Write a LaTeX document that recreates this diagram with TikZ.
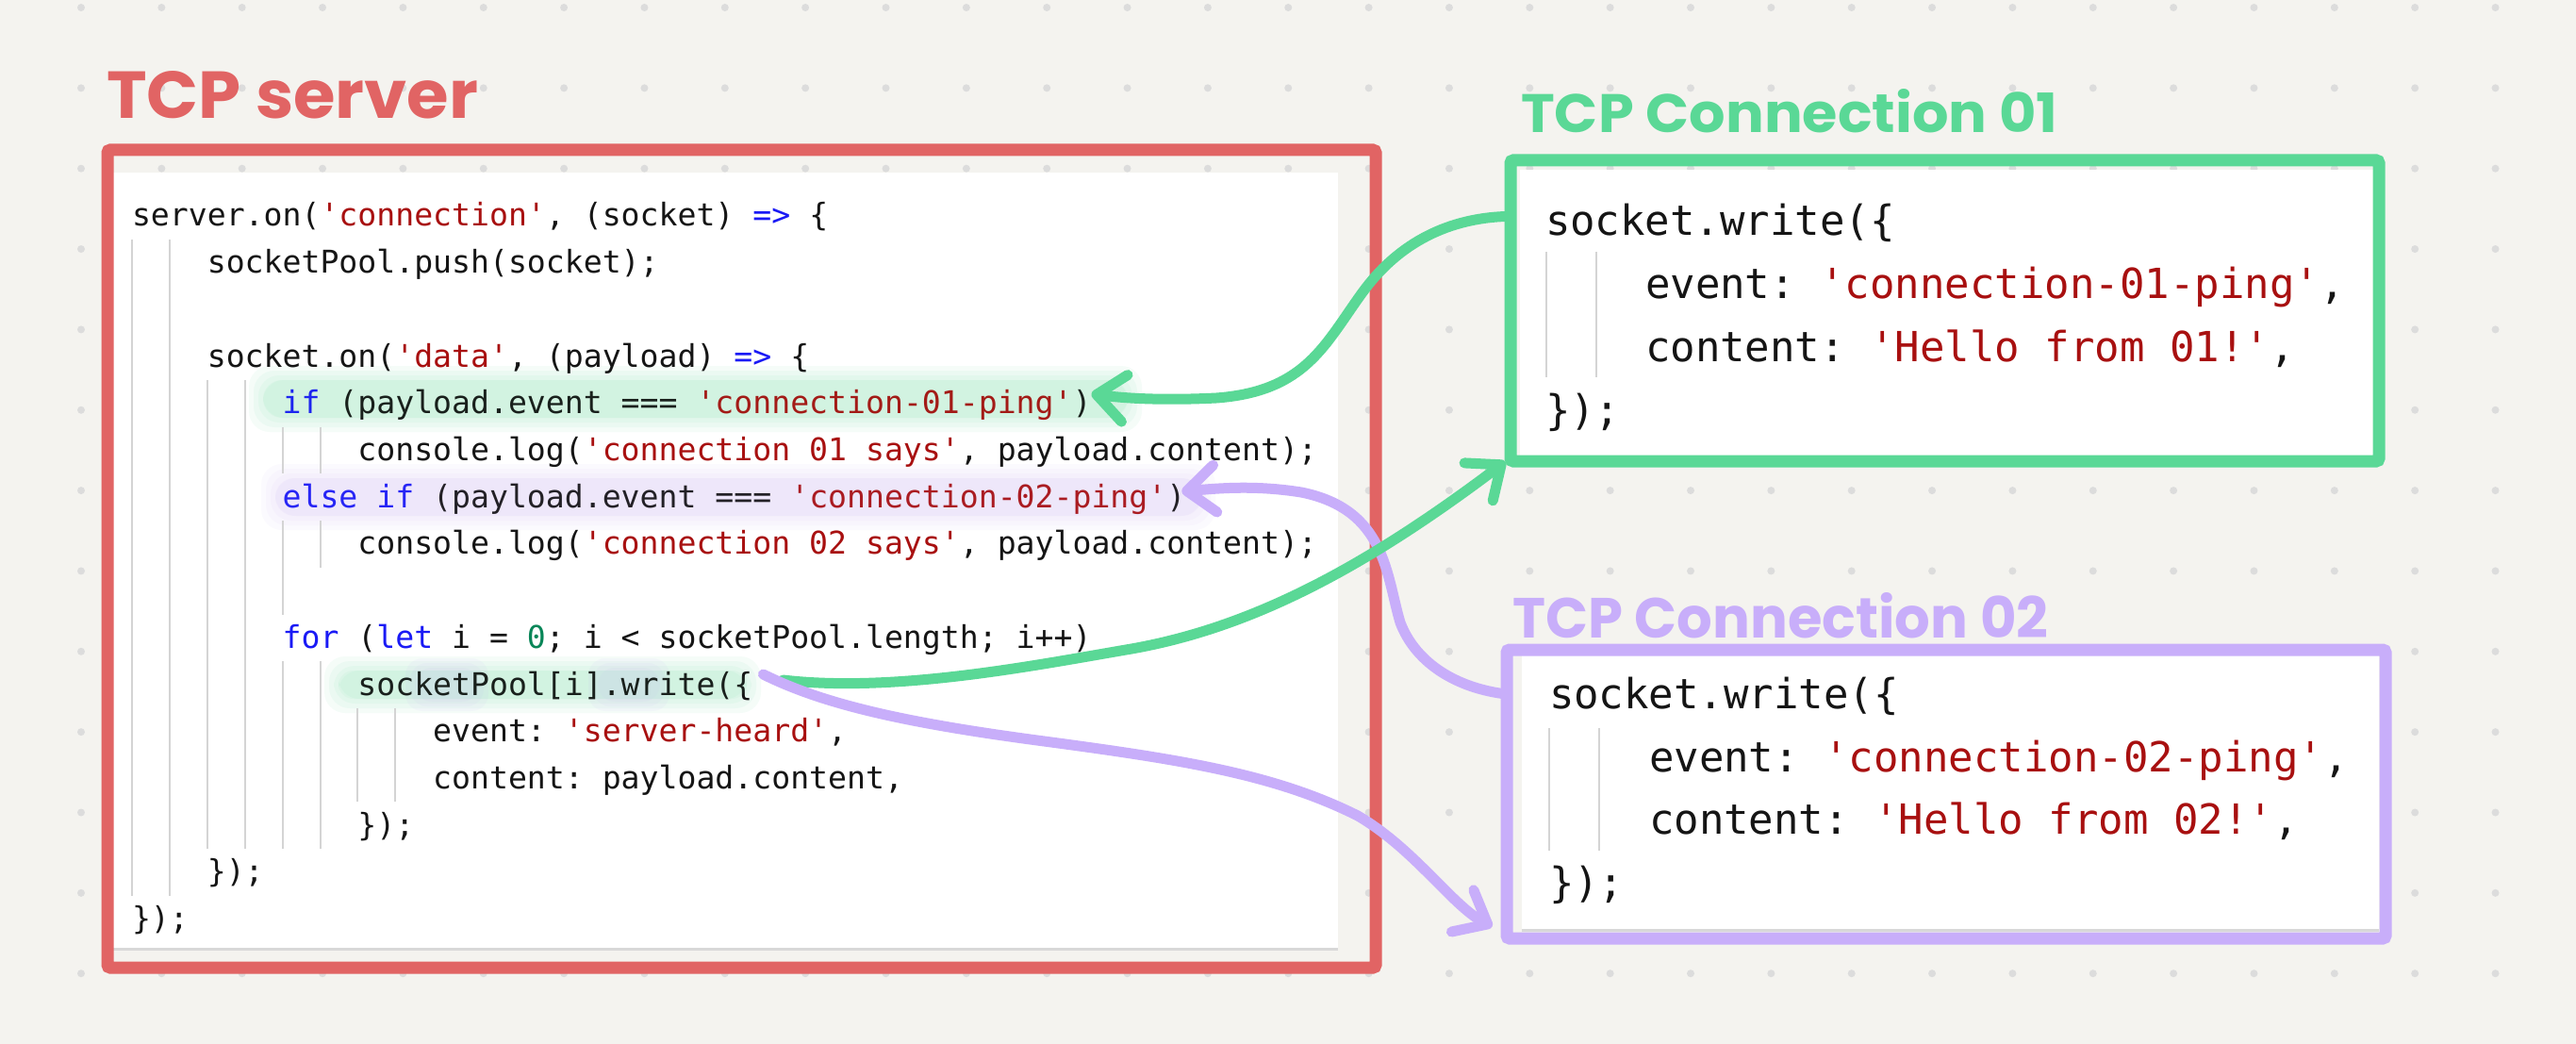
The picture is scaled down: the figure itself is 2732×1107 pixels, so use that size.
\documentclass[tikz,border=0pt]{standalone}
\usepackage{fontspec}
\usepackage{graphicx}
\usetikzlibrary{arrows.meta,calc}
\newfontfamily\codefont{DejaVu Sans Mono}
\newfontfamily\handfont{Poppins}
\definecolor{bg}{HTML}{F4F3EF}
\definecolor{dotc}{HTML}{DCDCDC}
\definecolor{redc}{HTML}{E16464}
\definecolor{greenc}{HTML}{5AD896}
\definecolor{purplec}{HTML}{C8AEFA}
\definecolor{kwc}{HTML}{1A1AF5}
\definecolor{strc}{HTML}{A81010}
\definecolor{numc}{HTML}{098658}
\definecolor{txtc}{HTML}{151515}
\definecolor{guidec}{HTML}{D4D4D4}
\definecolor{shadowc}{HTML}{D8D8D8}
\newcommand{\kwd}[1]{\textcolor{kwc}{#1}}
\newcommand{\strlit}[1]{\textcolor{strc}{\textquotesingle#1\textquotesingle}}
\newcommand{\numlit}[1]{\textcolor{numc}{#1}}
% soft highlight: colour, x1, y1, x2, y2
\newcommand{\softhl}[5]{%
  \foreach \d in {0,5,10,15}{%
    \fill[#1, opacity=0.06, rounded corners=22] ({#2-\d},{#3-\d}) rectangle ({#4+\d},{#5+\d});
  }%
}
\begin{document}
\begin{tikzpicture}[x=1pt,y=-1pt,
  code/.style={anchor=base west, inner sep=0pt, outer sep=0pt, text=txtc,
    font=\codefont\fontsize{33.14}{40}\selectfont\frenchspacing},
  bigcode/.style={anchor=base west, inner sep=0pt, outer sep=0pt, text=txtc,
    font=\codefont\fontsize{44}{52}\selectfont\frenchspacing},
  guide/.style={draw=guidec, line width=2},
  panel/.style={fill=white},
  shadowline/.style={draw=shadowc, line width=3},
  frame/.style={draw, line width=13, rounded corners=3, inner sep=0pt, fill=none},
  hand/.style={anchor=south west, inner sep=0pt, font=\handfont\bfseries},
  conn/.style={line width=11, line cap=round, line join=round},
  arr/.style={-{Straight Barb[length=30pt,width=50pt,round]}}
]
\useasboundingbox (0,0) rectangle (2732,1107);
\fill[bg] (0,0) rectangle (2732,1107);
% dot grid
\foreach \i in {0,...,30}{
  \foreach \j in {0,...,12}{
    \fill[dotc] ({86+85.35*\i},{8+85.35*\j}) circle[radius=4];
  }
}

% ---------- titles ----------
\node[hand, text=redc] (tserver) at (113,126) {\resizebox{394pt}{50pt}{TCP server}};
\node[hand, text=greenc] (tconn1) at (1613,141) {\resizebox{569pt}{46pt}{TCP Connection 01}};
\node[hand, text=purplec] (tconn2) at (1604,677) {\resizebox{568pt}{48pt}{TCP Connection 02}};

% ---------- server panel ----------
\fill[panel] (120,183) rectangle (1419,1005);
\draw[shadowline] (120,1006) -- (1419,1006);
% highlights (beneath text)
\softhl{greenc}{279}{403}{1196}{443}
\softhl{purplec}{292}{507}{1274}{547}
\softhl{greenc}{359}{711}{792}{741}
\foreach \d in {0,5,10}{
  \fill[purplec, opacity=0.07, rounded corners=18] ({440-\d},{708-\d}) rectangle ({508+\d},{744+\d});
  \fill[purplec, opacity=0.07, rounded corners=18] ({634-\d},{708-\d}) rectangle ({700+\d},{744+\d});
}
% indent guides
\draw[guide] (140,253.9) -- (140,949.7);
\draw[guide] (179.9,253.9) -- (179.9,949.7);
\draw[guide] (219.8,403) -- (219.8,900);
\draw[guide] (259.7,403) -- (259.7,900);
\draw[guide] (299.6,452.7) -- (299.6,502.4);
\draw[guide] (339.5,452.7) -- (339.5,502.4);
\draw[guide] (299.6,552.1) -- (299.6,651.5);
\draw[guide] (339.5,552.1) -- (339.5,601.8);
\draw[guide] (299.6,701.2) -- (299.6,900);
\draw[guide] (339.5,701.2) -- (339.5,900);
\draw[guide] (379.4,750.9) -- (379.4,850.3);
\draw[guide] (419.3,750.9) -- (419.3,850.3);
% code lines
\node[code] (s1) at (140,240) {server.on(\strlit{connection}, (socket) \kwd{=>} \{};
\node[code] (s2) at ({140+4*19.95},289.7) {socketPool.push(socket);};
\node[code] (s4) at ({140+4*19.95},389.1) {socket.on(\strlit{data}, (payload) \kwd{=>} \{};
\node[code] (s5) at ({140+8*19.95},438.8) {\kwd{if} (payload.event === \strlit{connection-01-ping})};
\node[code] (s6) at ({140+12*19.95},488.5) {console.log(\strlit{connection 01 says}, payload.content);};
\node[code] (s7) at ({140+8*19.95},538.2) {\kwd{else if} (payload.event === \strlit{connection-02-ping})};
\node[code] (s8) at ({140+12*19.95},587.9) {console.log(\strlit{connection 02 says}, payload.content);};
\node[code] (s10) at ({140+8*19.95},687.3) {\kwd{for} (\kwd{let} i = \numlit{0}; i < socketPool.length; i++)};
\node[code] (s11) at ({140+12*19.95},737) {socketPool[i].write(\{};
\node[code] (s12) at ({140+16*19.95},786.7) {event: \strlit{server-heard},};
\node[code] (s13) at ({140+16*19.95},836.4) {content: payload.content,};
\node[code] (s14) at ({140+12*19.95},886.1) {\});};
\node[code] (s15) at ({140+4*19.95},935.8) {\});};
\node[code] (s16) at (140,985.5) {\});};
% light tint over highlighted text
\fill[greenc, opacity=0.06, rounded corners=20] (279,403) rectangle (1196,443);
\fill[purplec, opacity=0.08, rounded corners=20] (292,507) rectangle (1274,547);
\fill[greenc, opacity=0.06, rounded corners=16] (359,711) rectangle (792,741);

% server frame
\node[frame, draw=redc, minimum width=1345pt, minimum height=867pt] (server) at (786.5,592.5) {};

% ---------- connection 01 ----------
\fill[panel] (1612,180) rectangle (2517,484);
\draw[guide] (1640,267) -- (1640,400);
\draw[guide] (1693,267) -- (1693,400);
\node[bigcode] (g1) at (1639,250) {socket.write(\{};
\node[bigcode] (g2) at ({1639+4*26.5},316.7) {event: \strlit{connection-01-ping},};
\node[bigcode] (g3) at ({1639+4*26.5},383.3) {content: \strlit{Hello from 01!},};
\node[bigcode] (g4) at (1639,450) {\});};
\node[frame, draw=greenc, minimum width=921pt, minimum height=319pt] (gbox) at (2062.5,329.5) {};

% ---------- connection 02 ----------
\fill[panel] (1614,694) rectangle (2523,985);
\draw[shadowline] (1614,986) -- (2523,986);
\draw[guide] (1643,772) -- (1643,902);
\draw[guide] (1696,772) -- (1696,902);
\node[bigcode] (p1) at (1643,751) {socket.write(\{};
\node[bigcode] (p2) at ({1643+4*26.5},818) {event: \strlit{connection-02-ping},};
\node[bigcode] (p3) at ({1643+4*26.5},884) {content: \strlit{Hello from 02!},};
\node[bigcode] (p4) at (1643,951) {\});};
\node[frame, draw=purplec, minimum width=932pt, minimum height=306pt] (pbox) at (2064,842) {};

% ---------- connectors ----------
\coordinate (g1start) at ($(gbox.north west)+(1,66)$);
\coordinate (g1tip) at ($(s5.east)+(0,-12)$);
\coordinate (p1start) at ($(pbox.north west)+(2,53)$);
\coordinate (p1tip) at ($(s7.east)+(-4,-8)$);
\coordinate (g2start) at ($(s11.east)+(32,-6)$);
\coordinate (g2tip) at ($(gbox.south west)+(1,-6)$);
\coordinate (p2start) at ($(s11.east)+(11,-12)$);
\coordinate (p2tip) at ($(pbox.south west)+(-9,-19)$);

\draw[conn, greenc, arr] (g1start) .. controls (1530,232) and (1480,262) .. (1445,310)
  .. controls (1405,365) and (1385,415) .. (1290,422)
  .. controls (1230,425) and (1190,422) .. (g1tip);
\draw[conn, purplec, arr] (p1start) .. controls (1540,728) and (1500,700) .. (1485,660)
  .. controls (1470,610) and (1470,540) .. (1380,522)
  .. controls (1330,514) and (1290,518) .. (p1tip);
\draw[conn, greenc, arr] (g2start) .. controls (950,735) and (1100,705) .. (1200,688)
  .. controls (1330,665) and (1450,600) .. (g2tip);
\draw[conn, purplec, arr] (p2start) .. controls (870,745) and (950,765) .. (1100,785)
  .. controls (1250,805) and (1350,820) .. (1440,865)
  .. controls (1500,900) and (1540,960) .. (p2tip);
\end{tikzpicture}
\end{document}
